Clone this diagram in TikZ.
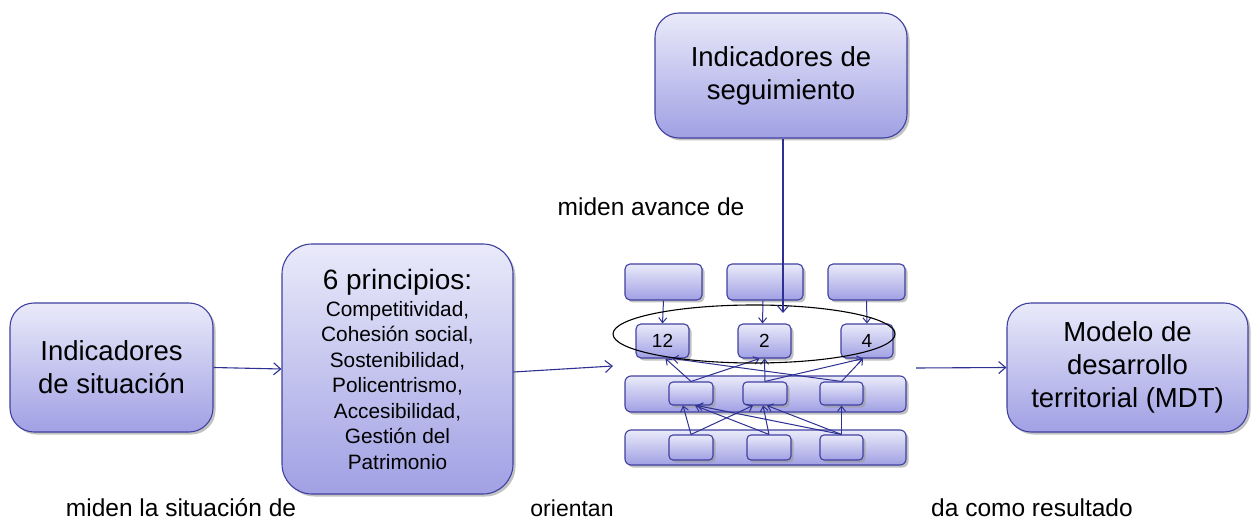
\documentclass[tikz,border=0pt]{standalone}
\usepackage{fontspec}
\setmainfont{Liberation Sans}
\usetikzlibrary{arrows.meta,shapes.geometric,shadows}
\definecolor{bord}{RGB}{64,64,160}
\definecolor{arr}{RGB}{46,49,146}
\definecolor{ftop}{RGB}{234,234,250}
\definecolor{fbot}{RGB}{160,160,228}
\tikzset{
  rbox/.style={draw=bord, line width=1.1pt, top color=ftop, bottom color=fbot,
    rounded corners=#1, inner sep=0pt, align=center,
    drop shadow={shadow xshift=2.5pt, shadow yshift=-2.5pt, fill=black!40, opacity=0.6}},
  rbox/.default=5pt,
  bigtxt/.style={font=\fontsize{27.5}{33}\selectfont},
  con/.style={draw=arr, line width=1.1pt, -{Straight Barb[length=7pt,width=12pt]}},
  scon/.style={draw=arr, line width=1pt, -{Straight Barb[length=5pt,width=8pt]}},
  lbl/.style={font=\fontsize{24.5}{28}\selectfont, inner sep=0pt},
}
\begin{document}
\begin{tikzpicture}[x=1pt,y=-1pt]
\useasboundingbox (0,0) rectangle (1258,521);
% main boxes
\node[rbox=24pt, bigtxt, minimum width=203pt, minimum height=129pt] (sit) at (111.5,367.5) {Indicadores\\de situación};
\node[rbox=30pt, minimum width=231pt, minimum height=250pt, font=\fontsize{20.8}{25.5}\selectfont] (pr) at (397.5,369)
 {{\fontsize{28}{28}\selectfont 6 principios:}\\[1.5pt] Competitividad,\\ Cohesión social,\\ Sostenibilidad,\\ Policentrismo,\\ Accesibilidad,\\ Gestión del\\ Patrimonio};
\node[rbox=24pt, bigtxt, minimum width=252pt, minimum height=125pt] (seg) at (781,75.5) {Indicadores de\\seguimiento};
\node[rbox=24pt, bigtxt, minimum width=241pt, minimum height=129pt] (mdt) at (1127.5,367.5) {Modelo de\\desarrollo\\territorial (MDT)};
% hierarchy
\node[rbox=6pt, minimum width=281pt, minimum height=36pt] (bar3) at (765.5,394) {};
\node[rbox=6pt, minimum width=281pt, minimum height=35pt] (bar4) at (765.5,447.5) {};
\node[rbox, minimum width=77pt, minimum height=36pt] (t1) at (663.5,282) {};
\node[rbox, minimum width=76pt, minimum height=36pt] (t2) at (765,282) {};
\node[rbox, minimum width=77pt, minimum height=36pt] (t3) at (866.5,282) {};
\node[rbox, minimum width=53pt, minimum height=34pt, font=\fontsize{19}{20}\selectfont] (n12) at (662.5,341) {12};
\node[rbox, minimum width=53pt, minimum height=34pt, font=\fontsize{19}{20}\selectfont] (n2) at (764.5,341) {2};
\node[rbox, minimum width=52pt, minimum height=34pt, font=\fontsize{19}{20}\selectfont] (n4) at (867,341) {4};
\node[rbox=4pt, minimum width=44pt, minimum height=23pt] (r3a) at (691,393.5) {};
\node[rbox=4pt, minimum width=44pt, minimum height=23pt] (r3b) at (765,393.5) {};
\node[rbox=4pt, minimum width=43pt, minimum height=23pt] (r3c) at (841.5,393.5) {};
\node[rbox=4pt, minimum width=44pt, minimum height=25pt] (r4a) at (691,447.5) {};
\node[rbox=4pt, minimum width=44pt, minimum height=25pt] (r4b) at (769,447.5) {};
\node[rbox=4pt, minimum width=43pt, minimum height=25pt] (r4c) at (841.5,447.5) {};
% small connectors
\draw[scon] (t1.south) -- (n12.north);
\draw[scon] ([xshift=-2pt]t2.south) -- ([xshift=-2pt]n2.north);
\draw[scon] (t3.south) -- (n4.north);
\draw[scon] (r3a.north) -- ([xshift=3pt]n12.south);
\draw[scon] (r3a.north) -- ([xshift=-5pt]n2.south);
\draw[scon] (r3b.north) -- (n2.south);
\draw[scon] (r3b.north) -- ([xshift=-4pt]n4.south);
\draw[scon] (r3c.north) -- ([xshift=-4pt]n4.south);
\draw[scon] (r3c.north) -- ([xshift=10pt]n12.south);
\draw[scon] (r4a.north) -- ([xshift=-8pt]r3a.south);
\draw[scon] (r4a.north) -- ([xshift=-12pt]r3b.south);
\draw[scon] (r4b.north) -- ([xshift=4pt]r3a.south);
\draw[scon] (r4b.north) -- ([xshift=-2pt]r3b.south);
\draw[scon] (r4c.north) -- ([xshift=6pt]r3a.south);
\draw[scon] (r4c.north) -- ([xshift=2pt]r3b.south);
\draw[scon] (r4c.north) -- (r3c.south);
% ellipse
\node[draw=black, line width=1.1pt, ellipse, minimum width=282pt, minimum height=58pt, inner sep=0pt] (ell) at (754,334) {};
% main connectors
\coordinate (segend) at (783,313);
\coordinate (hin) at (613,366);
\coordinate (hout) at (916,368);
\draw[con] ([xshift=2pt]seg.south) -- (segend);
\draw[con] (sit.east) -- (pr.west);
\draw[con] ([yshift=-3pt]pr.east) -- (hin);
\draw[con] (hout) -- (mdt.west);
% labels
\node[lbl] (l1) at (181,508) {miden la situación de};
\node[lbl, font=\fontsize{23}{27}\selectfont] (l2) at (572,508) {orientan};
\node[lbl] (l3) at (1032,508) {da como resultado};
\node[lbl] (l4) at (651,207) {miden avance de};
\end{tikzpicture}
\end{document}
